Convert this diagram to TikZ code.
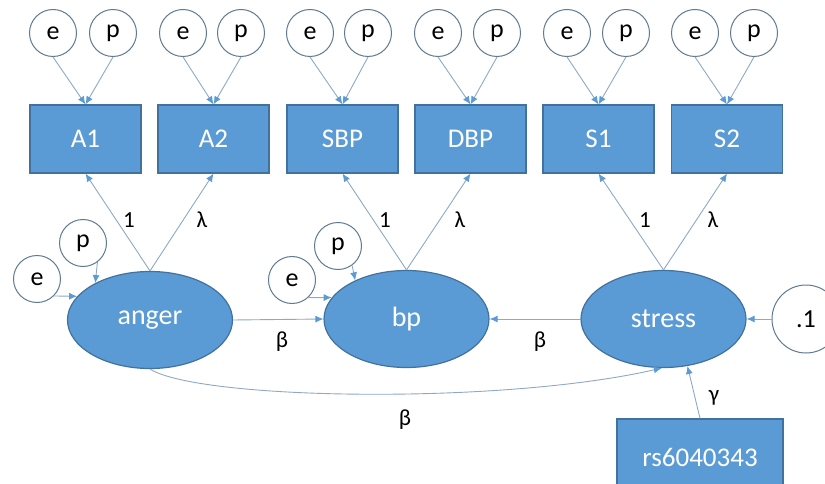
\documentclass[tikz,border=0pt]{standalone}
\usepackage{fontspec}
\setmainfont{Carlito}
\usetikzlibrary{shapes.geometric,arrows.meta}
\definecolor{boxblue}{HTML}{5B9BD5}
\definecolor{boxedge}{HTML}{41719C}
\definecolor{circedge}{HTML}{5F7A92}
\definecolor{linecol}{HTML}{8EA8C6}
\definecolor{tipcol}{HTML}{5B9BD5}
\tikzset{
  obsbox/.style={rectangle,draw=boxedge,fill=boxblue,line width=1.2pt,minimum width=111pt,minimum height=68pt,inner sep=0pt,text=white,font=\fontsize{27}{27}\selectfont},
  latent/.style={ellipse,draw=boxedge,fill=boxblue,line width=1.2pt,minimum width=165pt,minimum height=97pt,inner sep=0pt,text=white,font=\fontsize{28}{28}\selectfont},
  errc/.style={circle,draw=circedge,fill=white,line width=1pt,minimum size=47pt,inner sep=0pt,font=\fontsize{26}{26}\selectfont},
  bigc/.style={circle,draw=circedge,fill=white,line width=1pt,minimum size=68pt,inner sep=0pt,font=\fontsize{26}{26}\selectfont},
  conn/.style={draw=linecol,line width=0.9pt,-{Latex[length=8pt,width=7pt,color=tipcol]}},
  lab/.style={font=\fontsize{23}{23}\selectfont,inner sep=0pt}
}
\begin{document}
\begin{tikzpicture}[x=1pt,y=-1pt]
\useasboundingbox (0,0) rectangle (825,484);
\begin{scope}
\clip (0,0) rectangle (825,484);
% observed boxes
\node[obsbox] (A1) at (85.5,139) {A1};
\node[obsbox] (A2) at (213.5,139) {A2};
\node[obsbox] (SBP) at (342.5,139) {SBP};
\node[obsbox] (DBP) at (470.5,139) {DBP};
\node[obsbox] (S1) at (598.5,139) {S1};
\node[obsbox] (S2) at (727,139) {S2};
% top error circles
\foreach \n/\ex/\px in {A1/53/113, A2/183/241, SBP/310/368, DBP/438/497, S1/567/626, S2/695/754}{
  \node[errc] (e\n) at (\ex,33) {e};
  \node[errc] (p\n) at (\px,33) {p};
  \draw[conn] (e\n.south) -- (\n.north);
  \draw[conn] (p\n.south) -- (\n.north);
}
% latent variables
\node[latent] (anger) at (150,320) {anger};
\node[latent] (bp) at (406.5,319) {bp};
\node[latent] (stress) at (663.5,319) {stress};
% residual circles
\node[errc] (eanger) at (37,279) {e};
\node[errc] (panger) at (83,243) {p};
\node[errc] (ebp) at (292,280) {e};
\node[errc] (pbp) at (338,246) {p};
\node[bigc] (c1) at (806,319) {.1};
% rs box
\node[obsbox,minimum width=166pt,minimum height=76pt] (rs) at (700,457) {rs6040343};
% loadings
\draw[conn] (anger.north) -- (A1.south);
\draw[conn] (anger.north) -- (A2.south);
\draw[conn] (bp.north) -- (SBP.south);
\draw[conn] (bp.north) -- (DBP.south);
\draw[conn] (stress.north) -- (S1.south);
\draw[conn] (stress.north) -- (S2.south);
\node[lab] (l1) at (129,220) {1};
\node[lab] (l2) at (202,220) {λ};
\node[lab] (l3) at (385,220) {1};
\node[lab] (l4) at (460,220) {λ};
\node[lab] (l5) at (645,220) {1};
\node[lab] (l6) at (713,220) {λ};
% residual arrows
\draw[conn] (eanger.-45) -- (anger.162);
\draw[conn] (panger.-53) -- (anger.146);
\draw[conn] (ebp.-47) -- (bp.164);
\draw[conn] (pbp.-54) -- (bp.143);
\draw[conn] (c1.west) -- (stress.east);
% structural paths
\draw[conn] (anger.east) -- (bp.west);
\draw[conn] (stress.west) -- (bp.east);
\draw[conn] (anger.south) .. controls (200,400) and (500,405) .. (stress.-92);
\draw[conn] (rs.north) -- (stress.-63);
\node[lab] (b1) at (282,342) {β};
\node[lab] (b2) at (540,342) {β};
\node[lab] (b3) at (405,420) {β};
\node[lab] (g1) at (714,398) {γ};
\end{scope}
\end{tikzpicture}
\end{document}
